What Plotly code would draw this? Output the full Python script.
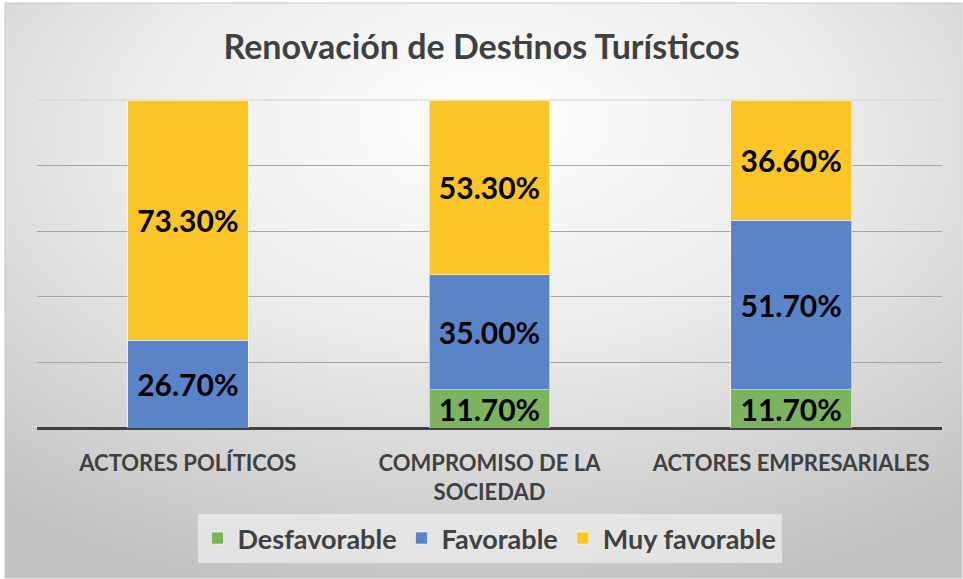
import base64
import plotly.graph_objects as go

categories = ["ACTORES POLÍTICOS", "COMPROMISO DE LA<br>SOCIEDAD", "ACTORES EMPRESARIALES"]
desfavorable = [None, 11.7, 11.7]
favorable = [26.7, 35.0, 51.7]
muy_favorable = [73.3, 53.3, 36.6]
series_names = ["Desfavorable", "Favorable", "Muy favorable"]
series_colors = ["#7db35c", "#5a84c8", "#fbc528"]

W, H = 963, 579
ML, MR, MT, MB = 37, 21, 100, 151
PW, PH = W - ML - MR, H - MT - MB

svg = f'''<svg xmlns="http://www.w3.org/2000/svg" width="{W}" height="{H}" viewBox="0 0 {W} {H}" preserveAspectRatio="none">
<defs><radialGradient id="g" cx="50%" cy="25%" r="80%" fx="50%" fy="20%">
<stop offset="0%" stop-color="#ffffff"/><stop offset="45%" stop-color="#ececec"/><stop offset="100%" stop-color="#c2c2c2"/>
</radialGradient></defs>
<rect x="0" y="0" width="{W}" height="{H}" fill="#ffffff"/>
<rect x="5" y="3" width="{W-6}" height="{H-4}" fill="url(#g)" stroke="#c8c8c8" stroke-width="1"/>
</svg>'''
bg_uri = "data:image/svg+xml;base64," + base64.b64encode(svg.encode()).decode()

FONT = "Lato"
fig = go.Figure()
for name, vals, col in zip(series_names, [desfavorable, favorable, muy_favorable], series_colors):
    fig.add_trace(go.Bar(
        x=categories, y=vals, name=name,
        marker=dict(color=col, line=dict(color="rgba(255,255,255,0.55)", width=1)),
        texttemplate="%{y:.2f}%", textposition="inside", insidetextanchor="middle",
        textangle=0, constraintext="none",
        textfont=dict(family=FONT, size=30, color="#000000", weight="bold"),
        hoverinfo="skip",
    ))

fig.update_layout(
    width=W, height=H,
    barmode="stack", bargap=0.6,
    margin=dict(l=ML, r=MR, t=MT, b=MB, autoexpand=False),
    paper_bgcolor="rgba(0,0,0,0)", plot_bgcolor="rgba(0,0,0,0)",
    title=dict(text="<b>Renovación de Destinos Turísticos</b>", x=0.5, xanchor="center",
               y=1 - 47 / H, yanchor="middle",
               font=dict(family=FONT, size=34, color="#404040")),
    xaxis=dict(showgrid=False, showline=False, ticks="", ticklabelstandoff=20,
               tickfont=dict(family=FONT, size=22, color="#404040", weight="bold")),
    yaxis=dict(range=[0, 100], dtick=20, showticklabels=False, showgrid=True,
               gridcolor="#a6a6a6", gridwidth=1, zeroline=True, zerolinecolor="#404040",
               zerolinewidth=3, showline=False),
    legend=dict(orientation="h", x=0.5, xanchor="center", y=-(514 - 428) / PH, yanchor="top",
                bgcolor="rgba(236,236,236,0.75)", borderwidth=0,
                font=dict(family=FONT, size=27, color="#404040", weight="bold"),
                itemwidth=30, traceorder="normal"),
    images=[dict(source=bg_uri, xref="paper", yref="paper",
                 x=-ML / PW, y=1 + MT / PH, sizex=W / PW, sizey=H / PH,
                 xanchor="left", yanchor="top", sizing="stretch", layer="below")],
    shapes=[dict(type="line", xref="paper", yref="paper", x0=0, x1=1, y0=1, y1=1,
                 line=dict(color="#d4d4d4", width=1), layer="below")],
    showlegend=True,
)

fig.write_html("out.html", config={"displayModeBar": False},
               post_script="document.body.style.margin='0';document.body.style.overflow='hidden';")
